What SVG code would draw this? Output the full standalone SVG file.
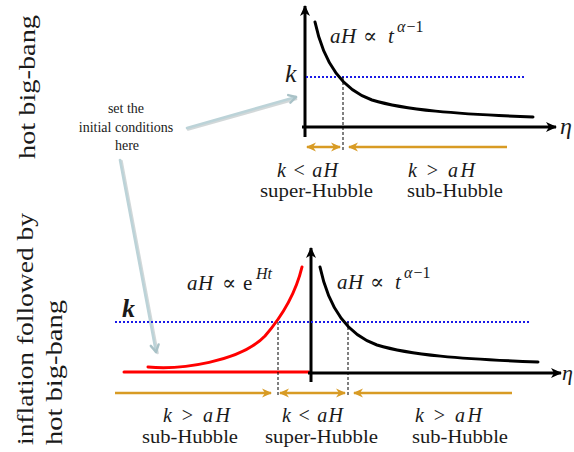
<svg xmlns="http://www.w3.org/2000/svg" width="574" height="452" viewBox="0 0 574 452">
<style>
  .t { font-family: "Liberation Serif", "DejaVu Serif", "Times New Roman", serif; fill: #1a1a1a; }
  .i { font-style: italic; }
  .ax { stroke: #000; stroke-width: 3; fill: none; }
  .cv { stroke: #000; stroke-width: 3; fill: none; stroke-linecap: round; }
  .red { stroke: #ff0000; stroke-width: 3; fill: none; stroke-linecap: round; }
  .dot { stroke: #1a1ae6; stroke-width: 2; stroke-dasharray: 2 2; fill: none; }
  .dash { stroke: #000; stroke-width: 1; stroke-dasharray: 3 2; fill: none; }
  .or { stroke: #d89b24; stroke-width: 2.5; fill: none; }
  .ga { stroke: #bcd3d8; stroke-width: 2.6; fill: none; stroke-linecap: round; }
  .gs { stroke: #7f8f93; stroke-width: 2.6; fill: none; stroke-linecap: round; opacity: 0.35; }
</style>
<defs>
  <marker id="axh" markerUnits="userSpaceOnUse" markerWidth="14" markerHeight="12" refX="0" refY="0" orient="auto" viewBox="-12 -6 14 12" overflow="visible">
    <path d="M1,0 L-10,-5 L-7,0 L-10,5 Z" fill="#000"/>
  </marker>
  <marker id="orh" markerUnits="userSpaceOnUse" markerWidth="12" markerHeight="10" refX="0" refY="0" orient="auto-start-reverse" viewBox="-10 -5 12 10" overflow="visible">
    <path d="M1,0 L-9,-4.5 L-6,0 L-9,4.5 Z" fill="#d89b24"/>
  </marker>
  <marker id="gah" markerUnits="userSpaceOnUse" markerWidth="12" markerHeight="12" refX="0" refY="0" orient="auto" viewBox="-10 -6 12 12" overflow="visible">
    <path d="M-7,-4 L0,0 L-7,4" fill="none" stroke="#a9c2c7" stroke-width="2.4" stroke-linecap="round" stroke-linejoin="round"/>
  </marker>
</defs>

<!-- side labels -->
<g id="label-top">
  <text class="t" font-size="24" transform="translate(35,159) rotate(-90)" textLength="144" lengthAdjust="spacingAndGlyphs">hot big-bang</text>
</g>
<g id="label-bottom">
  <text class="t" font-size="24" transform="translate(33,445) rotate(-90)" textLength="232" lengthAdjust="spacingAndGlyphs">inflation followed by</text>
  <text class="t" font-size="24" transform="translate(62,445) rotate(-90)" textLength="145" lengthAdjust="spacingAndGlyphs">hot big-bang</text>
</g>

<g id="note">
  <text class="t" font-size="14" fill="#333" text-anchor="middle"><tspan x="126" y="113">set the</tspan><tspan x="126" y="132">initial conditions</tspan><tspan x="127" y="150">here</tspan></text>
</g>

<!-- connectors -->
<g id="connectors">
  <path class="gs" d="M188,129.5 L296,99"/>
  <path class="ga" d="M187,128 L296,97" marker-end="url(#gah)"/>
  <path class="gs" d="M121.5,161 L157.5,353"/>
  <path class="ga" d="M120,160 L156,352" marker-end="url(#gah)"/>
</g>

<!-- top panel -->
<g id="top-panel">
  <line class="ax" x1="305" y1="137" x2="305" y2="6" marker-end="url(#axh)"/>
  <line class="ax" x1="302" y1="127" x2="556" y2="127" marker-end="url(#axh)"/>
  <text class="t i" font-size="24" x="560" y="134">η</text>
  <line class="dot" x1="306" y1="77" x2="525" y2="77"/>
  <text class="t i" font-size="26" x="285" y="82">k</text>
  <path class="cv" d="M315,22 C322,55 338,88 372,100 C405,110 455,114 533,117"/>
  <line class="dash" x1="343" y1="77" x2="343" y2="151"/>
  <text class="t" font-size="21" y="43"><tspan class="i" x="330">a</tspan><tspan class="i" x="341">H</tspan><tspan x="363">∝</tspan><tspan class="i" x="388">t</tspan><tspan class="i" x="397" y="32" font-size="16">α</tspan><tspan font-size="16" dx="1">−1</tspan></text>
  <line class="or" x1="307" y1="147" x2="340" y2="147" marker-start="url(#orh)" marker-end="url(#orh)"/>
  <line class="or" x1="507" y1="147" x2="349" y2="147" marker-end="url(#orh)"/>
  <text class="t" font-size="20" x="277" y="177" textLength="61" lengthAdjust="spacing"><tspan class="i">k</tspan> &lt; <tspan class="i">aH</tspan></text>
  <text class="t" font-size="18" x="260" y="197" textLength="113" lengthAdjust="spacingAndGlyphs">super-Hubble</text>
  <text class="t" font-size="20" x="408" y="177" textLength="67" lengthAdjust="spacing"><tspan class="i">k</tspan> &gt; <tspan class="i">aH</tspan></text>
  <text class="t" font-size="18" x="407" y="197" textLength="96" lengthAdjust="spacingAndGlyphs">sub-Hubble</text>
</g>

<!-- bottom panel -->
<g id="bottom-panel">
  <line class="red" x1="124" y1="372" x2="309" y2="372" stroke-linecap="butt"/>
  <line class="ax" x1="311" y1="382" x2="311" y2="248" marker-end="url(#axh)"/>
  <line class="ax" x1="308" y1="373" x2="561" y2="373" marker-end="url(#axh)"/>
  <text class="t i" font-size="22" x="562" y="380">η</text>
  <line class="dot" x1="115" y1="322" x2="530" y2="322"/>
  <text class="t i" font-size="26" font-weight="bold" x="122" y="317">k</text>
  <path class="red" d="M148,367 C180,370 240,362 265,336 C284,314 296,292 302,267"/>
  <path class="cv" d="M320,267 C327,300 343,333 377,345 C410,355 460,359 538,362"/>
  <line class="dash" x1="278" y1="322" x2="278" y2="397"/>
  <line class="dash" x1="348" y1="322" x2="348" y2="397"/>
  <text class="t" font-size="21" y="290"><tspan class="i" x="187">a</tspan><tspan class="i" x="198">H</tspan><tspan x="222">∝</tspan><tspan x="243">e</tspan><tspan class="i" x="256" y="279" font-size="16">Ht</tspan></text>
  <text class="t" font-size="21" y="289"><tspan class="i" x="337">a</tspan><tspan class="i" x="348">H</tspan><tspan x="370">∝</tspan><tspan class="i" x="395">t</tspan><tspan class="i" x="404" y="278" font-size="16">α</tspan><tspan font-size="16" dx="1">−1</tspan></text>
  <line class="or" x1="115" y1="393" x2="271" y2="393" marker-end="url(#orh)"/>
  <line class="or" x1="280" y1="393" x2="345" y2="393" marker-start="url(#orh)" marker-end="url(#orh)"/>
  <line class="or" x1="512" y1="393" x2="354" y2="393" marker-end="url(#orh)"/>
  <text class="t" font-size="20" x="163" y="422" textLength="67" lengthAdjust="spacing"><tspan class="i">k</tspan> &gt; <tspan class="i">aH</tspan></text>
  <text class="t" font-size="18" x="142" y="443" textLength="96" lengthAdjust="spacingAndGlyphs">sub-Hubble</text>
  <text class="t" font-size="20" x="282" y="422" textLength="61" lengthAdjust="spacing"><tspan class="i">k</tspan> &lt; <tspan class="i">aH</tspan></text>
  <text class="t" font-size="18" x="265" y="443" textLength="113" lengthAdjust="spacingAndGlyphs">super-Hubble</text>
  <text class="t" font-size="20" x="415" y="422" textLength="67" lengthAdjust="spacing"><tspan class="i">k</tspan> &gt; <tspan class="i">aH</tspan></text>
  <text class="t" font-size="18" x="412" y="443" textLength="96" lengthAdjust="spacingAndGlyphs">sub-Hubble</text>
</g>
</svg>
